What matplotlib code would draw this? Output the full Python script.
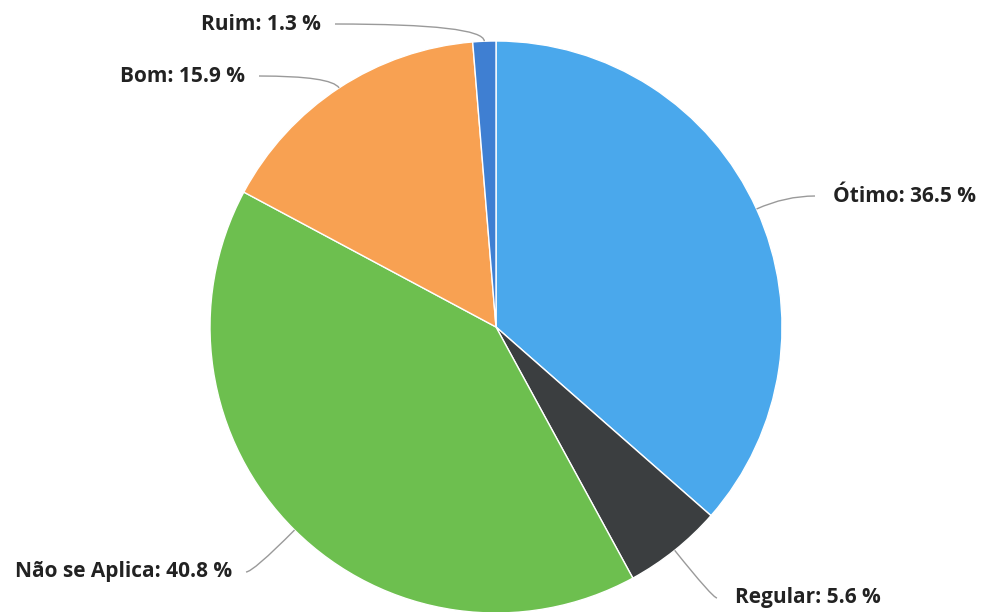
import numpy as np
import matplotlib.pyplot as plt
from matplotlib.path import Path
import matplotlib.patches as mpatches

labels = ['Ótimo', 'Regular', 'Não se Aplica', 'Bom', 'Ruim']
values = [36.5, 5.6, 40.8, 15.9, 1.3]
colors = ['#4aa8ec', '#3b3e40', '#6dbf4f', '#f8a152', '#3f7fd2']

# label anchor (x, y) in pixels from top-left, and alignment
label_pos = [(833, 196, 'left'), (735, 598, 'left'), (232, 572, 'right'),
             (245, 76, 'right'), (321, 24, 'right')]

W, H = 983, 612
cx, cy, r = 496, H - 327, 286

fig = plt.figure(figsize=(W / 100, H / 100), dpi=100)
ax = fig.add_axes([0, 0, 1, 1])

wedges, _ = ax.pie(values, colors=colors, startangle=90, counterclock=False,
                   center=(cx, cy), radius=r, frame=True,
                   wedgeprops=dict(edgecolor='white', linewidth=1))
ax.set_xlim(0, W)
ax.set_ylim(0, H)
ax.set_aspect('equal')
ax.axis('off')

for w, lab, val, (lx, ly, ha) in zip(wedges, labels, values, label_pos):
    ly = H - ly
    ang = np.deg2rad((w.theta1 + w.theta2) / 2)
    dx, dy = np.cos(ang), np.sin(ang)
    ex, ey = cx + r * dx, cy + r * dy
    end_x = lx - 18 if ha == 'left' else lx + 14
    t = abs((ly - ey) / dy) if abs(dy) > 1e-3 else 20
    ctrl = (ex + dx * t, ly)
    path = Path([(ex, ey), ctrl, (end_x, ly)], [Path.MOVETO, Path.CURVE3, Path.CURVE3])
    ax.add_patch(mpatches.PathPatch(path, fill=False, edgecolor='#9a9a9a', lw=1))
    ax.text(lx, ly, f'{lab}: {val} %', ha=ha, va='center', fontsize=15,
            fontweight='bold', family='Open Sans', color='#222222')

fig.savefig('out.png', dpi=100, facecolor='white')
